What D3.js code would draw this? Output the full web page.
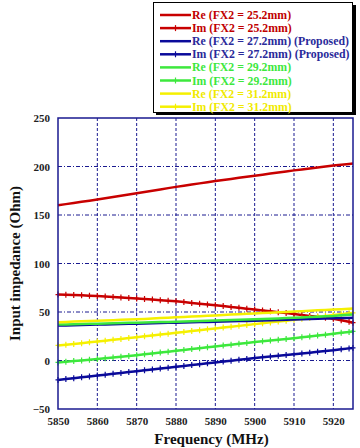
<!DOCTYPE html>
<html>
<head>
<meta charset="utf-8">
<script src="https://cdn.jsdelivr.net/npm/d3@7"></script>
<style>
  body { margin: 0; background: #fff; }
  svg text { font-family: "Liberation Serif", "Times New Roman", serif; font-weight: bold; }
</style>
</head>
<body>
<svg id="chart"></svg>
<script>
// frequency samples (MHz)
var freqs = [5850, 5852, 5854, 5856, 5858, 5860, 5862, 5864, 5866, 5868,
  5870, 5872, 5874, 5876, 5878, 5880, 5882, 5884, 5886, 5888,
  5890, 5892, 5894, 5896, 5898, 5900, 5902, 5904, 5906, 5908,
  5910, 5912, 5914, 5916, 5918, 5920, 5922, 5924, 5925];

var re252 = [160, 161.2, 162.4, 163.6, 164.8, 166, 167.3, 168.6, 169.9, 171.2,
  172.5, 173.8, 175.1, 176.4, 177.7, 179, 180.2, 181.4, 182.6, 183.8,
  185, 186.1, 187.2, 188.3, 189.4, 190.5, 191.6, 192.7, 193.8, 194.9,
  196, 197, 198, 199, 200, 201, 201.8, 202.6, 203];
var im252 = [68, 67.8, 67.5, 67.2, 66.8, 66.5, 66, 65.5, 65, 64.5,
  64, 63.4, 62.8, 62.2, 61.6, 61, 60.2, 59.4, 58.6, 57.8,
  57, 56.1, 55.2, 54.3, 53.4, 52.5, 51.6, 50.7, 49.8, 48.9,
  48, 47, 46, 45, 44, 43, 41.5, 40, 39];
var re272 = [36, 36.2, 36.4, 36.6, 36.8, 37, 37.2, 37.4, 37.6, 37.8,
  38, 38.2, 38.4, 38.6, 38.8, 39, 39.2, 39.4, 39.6, 39.8,
  40, 40.2, 40.4, 40.6, 40.8, 41, 41.3, 41.5, 41.8, 42,
  42.3, 42.5, 42.8, 43, 43.3, 43.5, 43.7, 43.9, 44];
var im272 = [-20, -19.1, -18.2, -17.3, -16.4, -15.5, -14.6, -13.7, -12.8, -11.9,
  -11, -10.1, -9.2, -8.3, -7.4, -6.5, -5.6, -4.7, -3.8, -2.9,
  -2, -1.1, -0.2, 0.7, 1.6, 2.5, 3.3, 4.1, 4.9, 5.7,
  6.5, 7.3, 8.1, 8.9, 9.7, 10.5, 11.5, 12.5, 13];
var re292 = [37, 37.2, 37.4, 37.6, 37.8, 38, 38.2, 38.4, 38.6, 38.8,
  39, 39.2, 39.4, 39.6, 39.8, 40, 40.2, 40.5, 40.7, 41,
  41.2, 41.5, 41.7, 42, 42.2, 42.5, 42.8, 43.1, 43.4, 43.7,
  44, 44.4, 44.8, 45.2, 45.6, 46, 46.6, 47.2, 47.5];
var im292 = [-2, -1.3, -0.6, 0.1, 0.8, 1.5, 2.3, 3.1, 3.9, 4.7,
  5.5, 6.4, 7.3, 8.2, 9.1, 10, 10.9, 11.8, 12.7, 13.6,
  14.5, 15.4, 16.3, 17.2, 18.1, 19, 19.8, 20.6, 21.4, 22.2,
  23, 23.9, 24.8, 25.7, 26.6, 27.5, 28.5, 29.5, 30];
var re312 = [39.5, 39.8, 40.1, 40.4, 40.7, 41, 41.3, 41.6, 41.9, 42.2,
  42.5, 42.9, 43.3, 43.7, 44.1, 44.5, 44.9, 45.3, 45.7, 46.1,
  46.5, 46.9, 47.3, 47.7, 48.1, 48.5, 48.9, 49.3, 49.7, 50.1,
  50.5, 50.9, 51.3, 51.7, 52.1, 52.5, 52.9, 53.3, 53.5];
var im312 = [15.5, 16.3, 17.1, 17.9, 18.7, 19.5, 20.4, 21.3, 22.2, 23.1,
  24, 24.9, 25.8, 26.7, 27.6, 28.5, 29.4, 30.3, 31.2, 32.1,
  33, 33.9, 34.8, 35.7, 36.6, 37.5, 38.4, 39.3, 40.2, 41.1,
  42, 43, 44, 45, 46, 47, 47.8, 48.6, 49];

var xTicks = [5850, 5860, 5870, 5880, 5890, 5900, 5910, 5920];
var yTicks = [-50, 0, 50, 100, 150, 200, 250];

var series = [
  { name: 'Re (FX2 = 25.2mm)', values: re252, color: '#c80000', text: '#c00000', mark: false },
  { name: 'Im (FX2 = 25.2mm)', values: im252, color: '#c80000', text: '#c00000', mark: true },
  { name: 'Re (FX2 = 27.2mm) (Proposed)', values: re272, color: '#0a0a9a', text: '#2a2a9a', mark: false },
  { name: 'Im (FX2 = 27.2mm) (Proposed)', values: im272, color: '#0a0a9a', text: '#2a2a9a', mark: true },
  { name: 'Re (FX2 = 29.2mm)', values: re292, color: '#3de83d', text: '#3de83d', mark: false },
  { name: 'Im (FX2 = 29.2mm)', values: im292, color: '#3de83d', text: '#3de83d', mark: true },
  { name: 'Re (FX2 = 31.2mm)', values: re312, color: '#f5f000', text: '#f0ea00', mark: false },
  { name: 'Im (FX2 = 31.2mm)', values: im312, color: '#f5f000', text: '#f0ea00', mark: true }
];

// draw order: lower lines first as in the picture
var drawOrder = [0, 1, 3, 5, 7, 2, 4, 6];

var width = 360, height = 448;
var pLeft = 58, pRight = 353, pTop = 118, pBottom = 409;

var svg = d3.select('#chart').attr('width', width).attr('height', height);

var x = d3.scaleLinear().domain([5850, 5925]).range([pLeft, pRight]);
var y = d3.scaleLinear().domain([-50, 250]).range([pBottom, pTop]);

// grid
svg.append('g').selectAll('line').data(xTicks.slice(1))
  .enter().append('line')
  .attr('x1', function (d) { return x(d); }).attr('x2', function (d) { return x(d); })
  .attr('y1', pTop).attr('y2', pBottom)
  .attr('stroke', '#1a1a90').attr('stroke-width', 1).attr('stroke-dasharray', '3,2');
svg.append('g').selectAll('line').data(yTicks.slice(1, -1))
  .enter().append('line')
  .attr('x1', pLeft).attr('x2', pRight)
  .attr('y1', function (d) { return y(d); }).attr('y2', function (d) { return y(d); })
  .attr('stroke', '#1a1a90').attr('stroke-width', 1).attr('stroke-dasharray', '4,2,1,2');

// series
var line = d3.line()
  .x(function (d, i) { return x(freqs[i]); })
  .y(function (d) { return y(d); });

var plot = svg.append('g');
drawOrder.forEach(function (k) {
  var s = series[k];
  plot.append('path')
    .attr('d', line(s.values))
    .attr('fill', 'none')
    .attr('stroke', s.color)
    .attr('stroke-width', 2.5);
  if (s.mark) {
    plot.append('g').selectAll('path').data(s.values)
      .enter().append('path')
      .attr('d', function (d, i) {
        var cx = x(freqs[i]), cy = y(d);
        return 'M' + (cx - 2.5) + ',' + cy + 'H' + (cx + 2.5) + 'M' + cx + ',' + (cy - 3) + 'V' + (cy + 3);
      })
      .attr('stroke', s.color)
      .attr('stroke-width', 1.2);
  }
});

// frame
svg.append('rect')
  .attr('x', pLeft).attr('y', pTop)
  .attr('width', pRight - pLeft).attr('height', pBottom - pTop)
  .attr('fill', 'none').attr('stroke', '#1a1a90').attr('stroke-width', 1.5);

// axes (labels only, frame drawn above)
var xAxis = svg.append('g')
  .attr('transform', 'translate(0,' + pBottom + ')')
  .call(d3.axisBottom(x).tickValues(xTicks).tickSize(0).tickPadding(8).tickFormat(d3.format('d')));
xAxis.select('.domain').remove();
xAxis.selectAll('text').attr('font-size', 11).attr('fill', '#222')
  .style('font-family', '"Liberation Serif", serif').style('font-weight', 'bold');

var yAxis = svg.append('g')
  .attr('transform', 'translate(' + pLeft + ',0)')
  .call(d3.axisLeft(y).tickValues(yTicks).tickSize(0).tickPadding(8).tickFormat(d3.format('d')));
yAxis.select('.domain').remove();
yAxis.selectAll('text').attr('font-size', 11).attr('fill', '#222')
  .style('font-family', '"Liberation Serif", serif').style('font-weight', 'bold');

svg.append('text')
  .attr('x', (pLeft + pRight) / 2 + 6).attr('y', 444)
  .attr('text-anchor', 'middle').attr('font-size', 15).attr('fill', '#111')
  .text('Frequency (MHz)');

svg.append('text')
  .attr('transform', 'translate(20,' + ((pTop + pBottom) / 2) + ') rotate(-90)')
  .attr('text-anchor', 'middle').attr('font-size', 15).attr('fill', '#111')
  .text('Input impedance (Ohm)');

// legend
var lg = svg.append('g');
lg.append('rect').attr('x', 156).attr('y', 5).attr('width', 200).attr('height', 110).attr('fill', '#000');
lg.append('rect').attr('x', 153.5).attr('y', 2.5).attr('width', 199).attr('height', 110)
  .attr('fill', '#fff').attr('stroke', '#000').attr('stroke-width', 1);

var rows = lg.selectAll('g.row').data(series).enter().append('g')
  .attr('transform', function (d, i) { return 'translate(0,' + (15 + i * 13.1) + ')'; });
rows.append('line').attr('x1', 160).attr('x2', 191).attr('y1', 0).attr('y2', 0)
  .attr('stroke', function (d) { return d.color; }).attr('stroke-width', 2.5);
rows.filter(function (d) { return d.mark; }).append('path')
  .attr('d', 'M175.5,-3V3')
  .attr('stroke', function (d) { return d.color; }).attr('stroke-width', 1.2);
rows.append('text').attr('x', 192).attr('y', 4)
  .attr('font-size', 11.8)
  .attr('fill', function (d) { return d.text; })
  .text(function (d) { return d.name; });
</script>
</body>
</html>
